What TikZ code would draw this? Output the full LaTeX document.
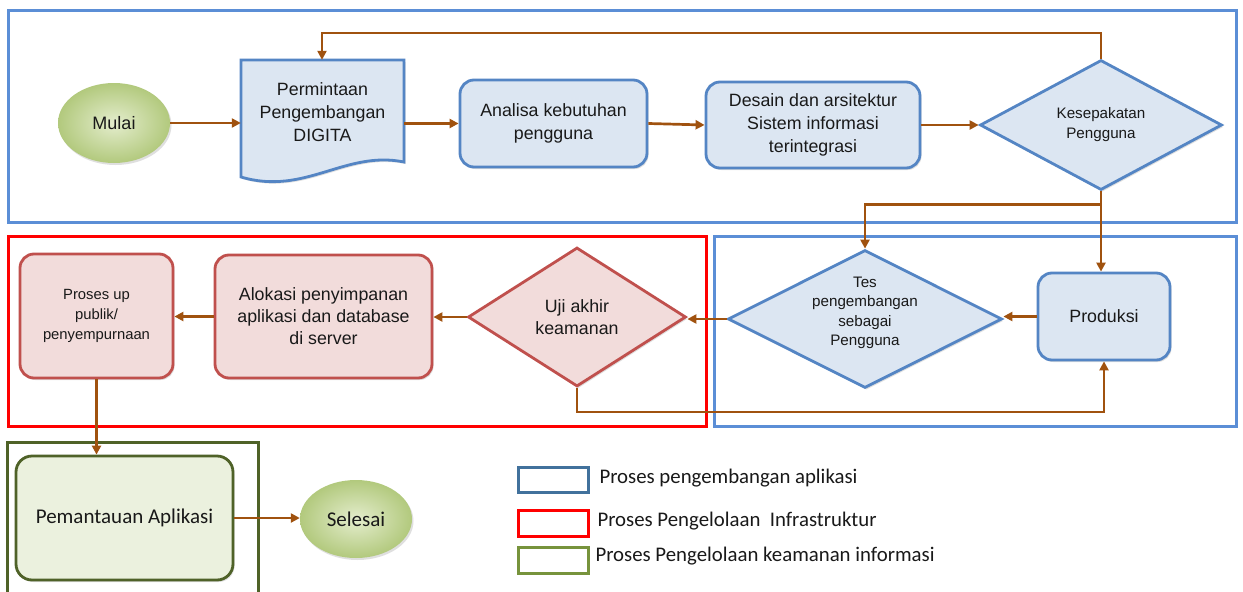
\documentclass[tikz,border=0pt]{standalone}
\usepackage{fontspec}
\setmainfont{Liberation Sans}
\newfontfamily\calfont{Carlito}
\usetikzlibrary{arrows.meta,shapes.geometric,shadows,calc}
\definecolor{frameblue}{RGB}{91,142,214}
\definecolor{nodeblue}{RGB}{84,133,196}
\definecolor{fillblue}{RGB}{220,230,242}
\definecolor{nodered}{RGB}{192,80,77}
\definecolor{fillred}{RGB}{242,220,219}
\definecolor{olivedark}{RGB}{79,98,40}
\definecolor{fillgreen}{RGB}{235,241,222}
\definecolor{arrowbrown}{RGB}{160,82,15}
\definecolor{legblue}{RGB}{65,113,156}
\definecolor{leggreen}{RGB}{119,147,60}
\definecolor{txt}{RGB}{25,25,25}
\definecolor{ellin}{RGB}{228,237,205}
\definecolor{ellout}{RGB}{178,201,125}
\begin{document}
\begin{tikzpicture}[x=1pt,y=-1pt,
  frame/.style={line width=3pt},
  shad/.style={drop shadow={opacity=0.25,shadow xshift=1.5pt,shadow yshift=-2pt}},
  bluebox/.style={draw=nodeblue,fill=fillblue,line width=2.8pt,rounded corners=14pt,align=center,text=txt,inner sep=0pt,shad},
  redbox/.style={draw=nodered,fill=fillred,line width=2.8pt,rounded corners=14pt,align=center,text=txt,inner sep=0pt,shad},
  greenbox/.style={draw=olivedark,fill=fillgreen,line width=2.8pt,rounded corners=16pt,align=center,text=txt,inner sep=0pt,shad},
  bluedia/.style={diamond,draw=nodeblue,fill=fillblue,line width=2.8pt,inner sep=0pt,shad},
  reddia/.style={diamond,draw=nodered,fill=fillred,line width=2.8pt,inner sep=0pt,shad},
  term/.style={ellipse,inner sep=0pt,inner color=ellin,outer color=ellout,text=txt,shad},
  lbl/.style={align=center,text=txt},
  arr/.style={draw=arrowbrown,line width=2.7pt,-{Triangle[length=9pt,width=9pt]}},
  legtext/.style={anchor=west,text=txt,font=\calfont\fontsize{20.8}{24}\selectfont}
]
\useasboundingbox (0,0) rectangle (1243,592);
\fill[white] (0,0) rectangle (1243,592);

% frames
\draw[frame,draw=frameblue] (8,10) rectangle (1236,222);
\draw[frame,draw=red] (8,236) rectangle (706,426);
\draw[frame,draw=frameblue] (714,236) rectangle (1236,426);
\draw[frame,draw=olivedark] (7,592) -- (7,442) -- (258,442) -- (258,592);

% top row
\node[term,minimum width=112,minimum height=80,font=\fontsize{18}{22}\selectfont] (mulai) at (114,123) {Mulai};
\draw[draw=nodeblue,fill=fillblue,line width=2.8pt,shad] (241,60) -- (404,60) -- (404,162) .. controls (345,150) and (305,196) .. (241,177) -- cycle;
\node[lbl,minimum width=163,minimum height=104,inner sep=0pt,font=\fontsize{17.8}{23}\selectfont] (perm) at (322.5,112) {Permintaan\\Pengembangan\\DIGITA};
\node[bluebox,minimum width=187,minimum height=87,font=\fontsize{17.8}{23}\selectfont] (anal) at (553.5,123.5) {Analisa kebutuhan\\pengguna};
\node[bluebox,minimum width=214,minimum height=86,font=\fontsize{17.8}{23}\selectfont] (desain) at (813,125) {Desain dan arsitektur\\Sistem informasi\\terintegrasi};
\node[bluedia,minimum width=242,minimum height=130] (kes) at (1101,125) {};
\node[lbl,font=\fontsize{15.2}{20}\selectfont] at (kes) {Kesepakatan\\Pengguna};

% middle row
\node[bluebox,minimum width=132,minimum height=87,font=\fontsize{17.8}{23}\selectfont] (prod) at (1104,316.5) {Produksi};
\node[bluedia,minimum width=274,minimum height=138] (tes) at (865,319) {};
\node[lbl,font=\fontsize{15.2}{19.5}\selectfont] at (865,313) {Tes\\pengembangan\\sebagai\\Pengguna};
\node[reddia,minimum width=218,minimum height=139] (uji) at (577,317) {};
\node[lbl,font=\fontsize{17.8}{22}\selectfont] at (uji) {Uji akhir\\keamanan};
\node[redbox,minimum width=217,minimum height=123,font=\fontsize{17.8}{22}\selectfont] (alok) at (323.5,316.5) {Alokasi penyimpanan\\aplikasi dan database\\di server};
\node[redbox,minimum width=153,minimum height=124,font=\fontsize{14.8}{20}\selectfont] (proses) at (96.5,316) {Proses up\\publik/\\penyempurnaan};

% bottom row
\node[greenbox,minimum width=217,minimum height=124,font=\calfont\fontsize{21}{24}\selectfont] (pem) at (124.5,518) {Pemantauan Aplikasi};
\node[term,minimum width=112,minimum height=78,font=\calfont\fontsize{21}{24}\selectfont] (sel) at (356,519) {Selesai};

% connectors
\draw[arr] (mulai.east) -- (mulai.east -| perm.west);
\draw[arr] (perm.east |- anal.west) -- (anal.west);
\draw[arr] (anal.east) -- (desain.west);
\draw[arr] (desain.east) -- (desain.east -| kes.west);
\coordinate (fb) at (322,33);
\draw[arr] (kes.north) |- (fb) -- (fb |- perm.north);
\coordinate (split) at ($(kes.south)+(0,13)$);
\draw[arr] (kes.south) -- (split) -| (tes.north);
\draw[arr] (split) -- (split |- prod.north);
\draw[arr] (prod.west) -- (prod.west -| tes.east);
\draw[arr] (tes.west) -- (tes.west -| uji.east);
\draw[arr] (uji.west) -- (uji.west -| alok.east);
\draw[arr] (alok.west) -- (alok.west -| proses.east);
\draw[arr] (uji.south) -- ++(0,24) -| (prod.south);
\draw[arr] (proses.south) -- (proses.south |- pem.north);
\draw[arr] (pem.east) -- (pem.east -| sel.west);

% legend
\draw[frame,draw=legblue] (518,467) rectangle (588,492);
\draw[frame,draw=red] (518,510) rectangle (588,536);
\draw[frame,draw=leggreen] (518,547) rectangle (588,573);
\node[legtext] (l1) at (596,478) {Proses pengembangan aplikasi};
\node[legtext] (l2) at (594,521) {Proses Pengelolaan\ \ Infrastruktur};
\node[legtext] (l3) at (592,556) {Proses Pengelolaan keamanan informasi};
\end{tikzpicture}
\end{document}
